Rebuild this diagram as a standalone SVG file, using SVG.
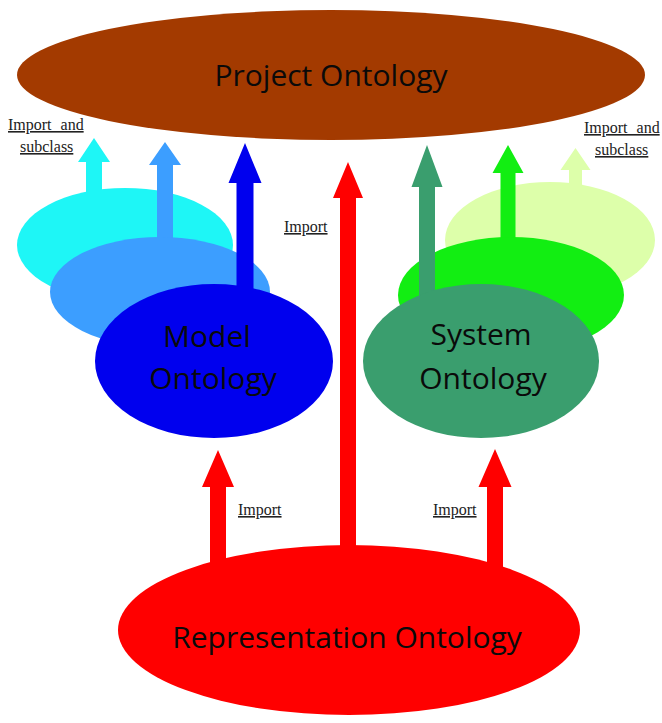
<svg xmlns="http://www.w3.org/2000/svg" width="662" height="723" viewBox="0 0 662 723">
<style>
.node{font-family:"Open Sans","Noto Sans",sans-serif;font-size:30px;fill:#0a0a0a;text-anchor:middle}
.lbl{font-family:"Liberation Serif","Times New Roman",serif;font-size:16px;fill:#222;text-decoration:underline}
</style>
<rect width="662" height="723" fill="#fff"/>
<g id="project-ontology">
<ellipse cx="331" cy="75" rx="314" ry="65" fill="#A33A00"/>
<text class="node" x="331" y="86">Project Ontology</text>
</g>
<g id="model-cluster">
<ellipse id="model-ontology-3" cx="125" cy="245" rx="108" ry="57" fill="#1EF6F6"/>
<polygon fill="#1EF6F6" points="86,195 86,162 78,162 94,138 110,162 102,162 102,195"/>
<polygon fill="#3C9EFF" points="157,245 157,165 149,165 165,142 181,165 173,165 173,245"/>
<ellipse id="model-ontology-2" cx="160" cy="292" rx="110" ry="55" fill="#3C9EFF"/>
<polygon fill="#0000EE" points="236.5,295 236.5,183 228.5,183 245,143 261.5,183 253.5,183 253.5,295"/>
</g>
<g id="model-ontology">
<ellipse cx="214" cy="361" rx="119" ry="77" fill="#0000EE"/>
<text class="node" x="207" y="347">Model</text>
<text class="node" x="213" y="389">Ontology</text>
</g>
<g id="system-cluster">
<ellipse id="system-ontology-3" cx="550" cy="240" rx="105" ry="58" fill="#DDFFAA"/>
<polygon fill="#DDFFAA" points="569,190 569,170 560.5,170 575.5,148 590.5,170 582,170 582,190"/>
<polygon fill="#12EE12" points="500.5,245 500.5,173 492.5,173 508,145 523.5,173 515.5,173 515.5,245"/>
<ellipse id="system-ontology-2" cx="511" cy="295" rx="113" ry="58" fill="#12EE12"/>
<polygon fill="#3A9E6E" points="419,305 419,187 411.5,187 427,145 442.5,187 435,187 435,305"/>
</g>
<g id="system-ontology">
<ellipse cx="481" cy="361" rx="118" ry="77" fill="#3A9E6E"/>
<text class="node" x="481" y="345">System</text>
<text class="node" x="483" y="389">Ontology</text>
</g>
<g id="connectors">
<polygon fill="#FF0000" points="340,555 340,198 333,198 348,162 363,198 356,198 356,555"/>
<polygon fill="#FF0000" points="210,580 210,487 202,487 218,450 234,487 226,487 226,580"/>
<polygon fill="#FF0000" points="487,580 487,487 478.5,487 495,449 511.5,487 503,487 503,580"/>
</g>
<g id="representation-ontology">
<ellipse cx="349" cy="630" rx="231" ry="85" fill="#FF0000"/>
<text class="node" x="347" y="648">Representation Ontology</text>
</g>
<g id="labels">
<text class="lbl" x="8" y="130" word-spacing="5">Import and</text>
<text class="lbl" x="20" y="152">subclass</text>
<text class="lbl" x="584" y="133" word-spacing="5">Import and</text>
<text class="lbl" x="595" y="155">subclass</text>
<text class="lbl" x="284" y="232">Import</text>
<text class="lbl" x="238" y="515">Import</text>
<text class="lbl" x="433" y="515">Import</text>
</g>
</svg>
